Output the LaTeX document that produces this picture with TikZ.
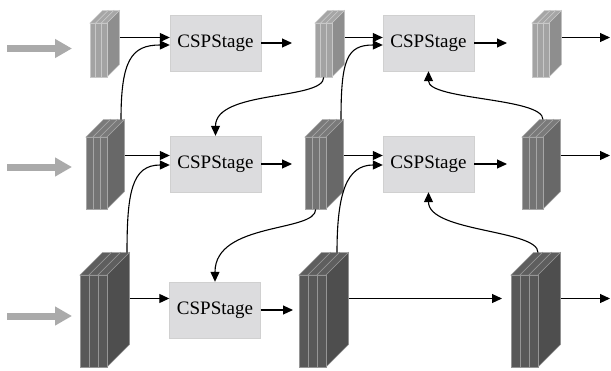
\documentclass[tikz,border=0pt]{standalone}
\usepackage{fontspec}
\setmainfont{Liberation Serif}
\usetikzlibrary{arrows.meta}

\definecolor{frontI}{HTML}{A3A3A3}
\definecolor{sideI}{HTML}{8E8E8E}
\definecolor{topI}{HTML}{A6A6A6}
\definecolor{edgeI}{HTML}{C8C8C8}
\definecolor{frontII}{HTML}{747474}
\definecolor{sideII}{HTML}{686868}
\definecolor{topII}{HTML}{7A7A7A}
\definecolor{edgeII}{HTML}{A6A6A6}
\definecolor{frontIII}{HTML}{585858}
\definecolor{sideIII}{HTML}{4E4E4E}
\definecolor{topIII}{HTML}{5E5E5E}
\definecolor{edgeIII}{HTML}{959595}
\definecolor{boxgray}{HTML}{DCDCDE}
\definecolor{boxedge}{HTML}{D0D0D0}
\definecolor{ingray}{HTML}{AAAAAA}

% feature map: name, x, y (front top left), slab width, height, depth, tone
\newcommand{\fmap}[7]{%
  \foreach \k in {0,1,2}{%
    \pgfmathsetmacro{\xa}{#2+\k*#4}%
    \filldraw[fill=top#7, draw=edge#7, line width=0.5pt] (\xa,#3) -- ++(#4,0) -- ++(#6,-#6) -- ++(-#4,0) -- cycle;
    \filldraw[fill=side#7, draw=edge#7, line width=0.5pt] (\xa+#4,#3) -- ++(#6,-#6) -- ++(0,#5) -- ++(-#6,#6) -- cycle;
    \filldraw[fill=front#7, draw=edge#7, line width=0.5pt] (\xa,#3) rectangle ++(#4,#5);
  }%
  \node[inner sep=0pt, anchor=north west, minimum width=3*#4pt, minimum height=#5pt] (#1) at (#2,#3) {};
  \coordinate (#1-r) at (#2+3*#4+#6, #3+#5/2-#6);
  \coordinate (#1-tr) at (#2+3*#4+#6, #3-#6);
}

\begin{document}
\begin{tikzpicture}[x=1pt, y=-1pt,
  stage/.style={fill=boxgray, draw=boxedge, line width=0.4pt, inner sep=0pt,
    minimum width=91pt, minimum height=56pt, font=\fontsize{19}{22}\selectfont},
  conn/.style={black, line width=1.1pt, -{Triangle[length=10pt,width=9pt]}},
  inarrow/.style={ingray, line width=7pt, -{Triangle[length=17pt,width=18pt]}}]
\useasboundingbox (0,0) rectangle (611,370);

% feature maps
\fmap{f11}{90}{23}{5.67}{54}{12.5}{I}
\fmap{f12}{315}{23}{5.67}{54}{12.5}{I}
\fmap{f13}{532}{23}{5.67}{54}{12.5}{I}
\fmap{f21}{86}{137}{7}{72}{17.5}{II}
\fmap{f22}{305}{137}{7}{72}{17.5}{II}
\fmap{f23}{522}{137}{7}{72}{17.5}{II}
\fmap{f31}{80}{275}{9}{92}{22.5}{III}
\fmap{f32}{299}{275}{9}{92}{22.5}{III}
\fmap{f33}{511}{275}{9}{92}{22.5}{III}

% stages
\node[stage] (s11) at (215.5,43) {CSPStage};
\node[stage] (s12) at (428.5,43) {CSPStage};
\node[stage] (s21) at (215.5,164) {CSPStage};
\node[stage] (s22) at (428.5,164) {CSPStage};
\node[stage] (s31) at (215,310) {CSPStage};

\coordinate (in1) at (7,48.5);
\coordinate (in2) at (7,167);
\coordinate (in3) at (7,316);
\coordinate (right) at (610,0);

% inputs
\draw[inarrow, shorten >=18pt] (in1) -- (in1 -| f11.west);
\draw[inarrow, shorten >=14pt] (in2) -- (in2 -| f21.west);
\draw[inarrow, shorten >=8pt] (in3) -- (in3 -| f31.west);

% top row
\draw[conn] (f11-r) -- (f11-r -| s11.west);
\draw[conn] ([xshift=-3.5pt]f21-tr) .. controls +(0,-60) and +(-38,0) .. ([yshift=-2pt]s11.west);
\draw[conn, shorten >=23pt] (s11.east) -- (s11.east -| f12.west);
\draw[conn] (f12-r) -- (f12-r -| s12.west);
\draw[conn] ([xshift=-2.5pt]f22-tr) .. controls +(0,-60) and +(-36,0) .. ([yshift=-2pt]s12.west);
\draw[conn, shorten >=25pt] (s12.east) -- (s12.east -| f13.west);
\draw[conn] (f13-r) -- (f13-r -| right);

% middle row
\draw[conn] (f12.south) .. controls +(0,23) and +(0,-46) .. (s21.north);
\draw[conn] (f21-r) -- (f21-r -| s21.west);
\draw[conn] ([xshift=-2.5pt]f31-tr) .. controls +(0,-60) and +(-38,0) .. ([yshift=-1pt]s21.west);
\draw[conn, shorten >=13pt] (s21.east) -- (s21.east -| f22.west);
\draw[conn] (f22-r) -- (f22-r -| s22.west);
\draw[conn] ([xshift=-11.5pt]f32-tr) .. controls +(0,-60) and +(-36,0) .. ([yshift=-1pt]s22.west);
\draw[conn, shorten >=15pt] (s22.east) -- (s22.east -| f23.west);
\draw[conn] (f23-r) -- (f23-r -| right);
\draw[conn] ([xshift=-17.5pt]f23-tr) .. controls +(0,-22) and +(0,29) .. (s12.south);

% bottom row
\draw[conn] (f22.south) .. controls +(0,23) and +(0,-60) .. (s31.north);
\draw[conn] (f31-r) -- (f31-r -| s31.west);
\draw[conn, shorten >=6pt] (s31.east) -- (s31.east -| f32.west);
\draw[conn, shorten >=9pt] (f32-r) -- (f32-r -| f33.west);
\draw[conn] (f33-r) -- (f33-r -| right);
\draw[conn] ([xshift=-22.5pt]f33-tr) .. controls +(0,-23) and +(0,40) .. (s22.south);
\end{tikzpicture}
\end{document}
